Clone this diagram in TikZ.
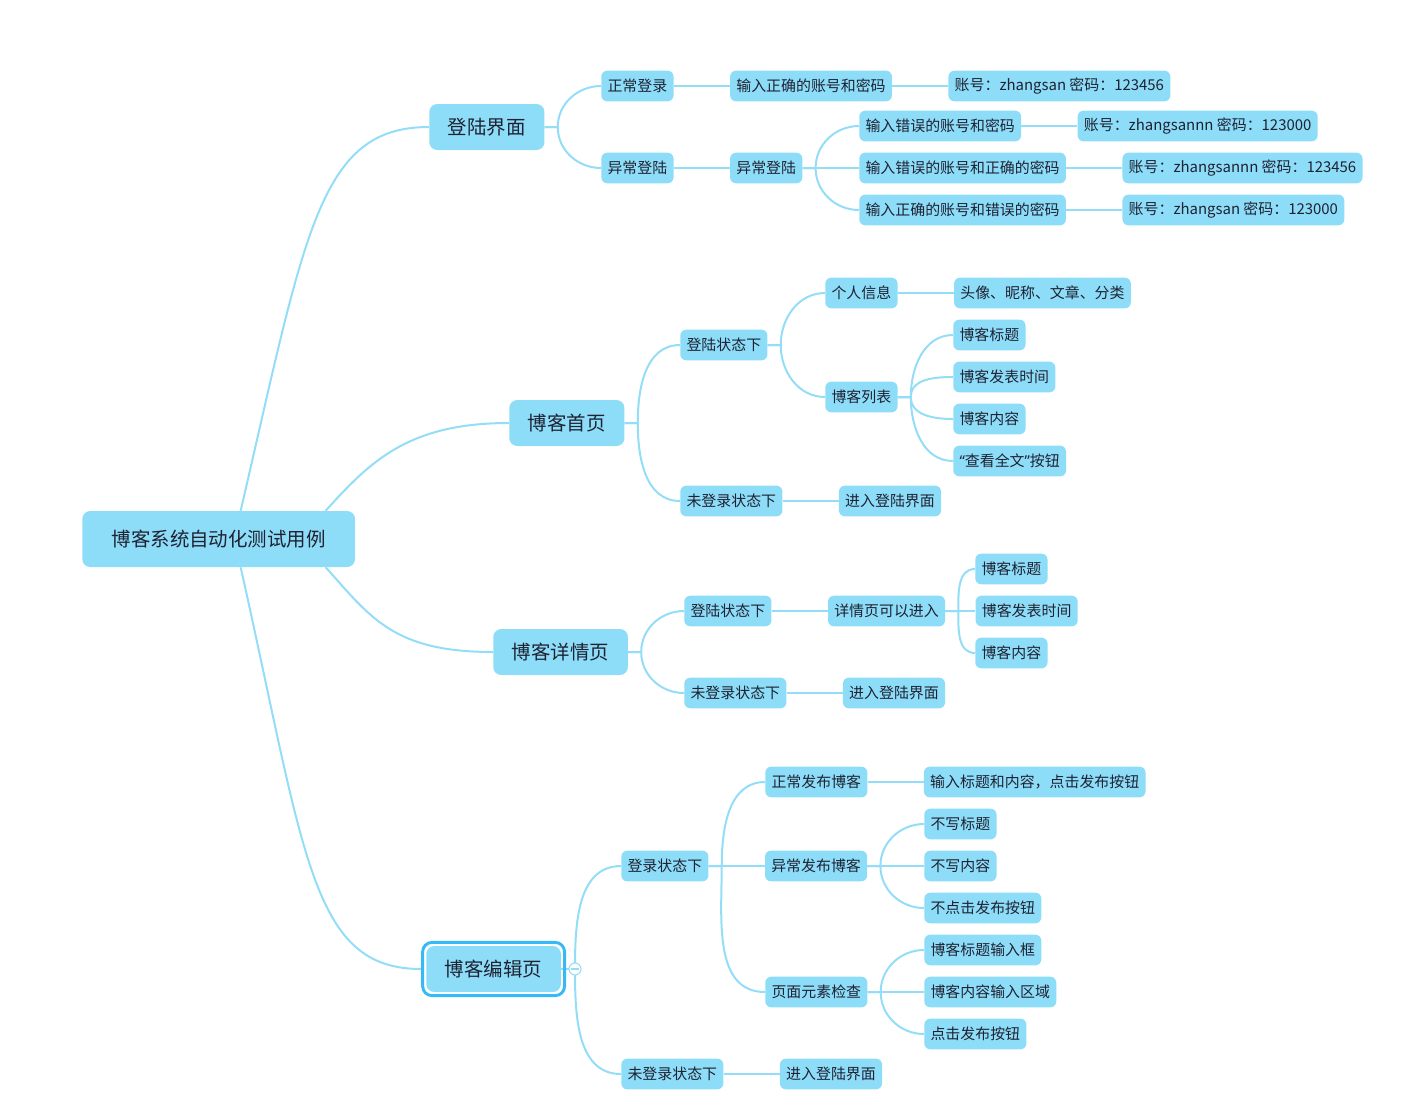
\documentclass[tikz,border=0pt]{standalone}
\usepackage{fontspec}
\setmainfont{Noto Sans CJK SC}
\newfontfamily\quotefont{Noto Sans}
\usetikzlibrary{positioning, calc, fit, backgrounds}

\definecolor{nodeblue}{HTML}{8EDDF8}
\definecolor{linkblue}{HTML}{93DDF7}
\definecolor{selblue}{HTML}{36B9F5}
\definecolor{inkgray}{HTML}{1E2233}

\begin{document}
\begin{tikzpicture}[
    x=0.75pt, y=-0.75pt,
    node distance=42pt,
    central/.style={fill=nodeblue, rounded corners=6pt, minimum height=42pt, inner xsep=22pt, text=inkgray, font=\fontsize{14.6}{17}\selectfont},
    topic/.style={fill=nodeblue, rounded corners=6pt, minimum height=34.5pt, inner xsep=14pt, text=inkgray, font=\fontsize{14.6}{17}\selectfont},
    sub/.style={fill=nodeblue, rounded corners=4.5pt, minimum height=23pt, inner xsep=4.7pt, text=inkgray, font=\fontsize{11.2}{13}\selectfont},
    link/.style={draw=linkblue, line width=1.5pt},
    selframe/.style={draw=selblue, line width=2.2pt, rounded corners=7pt, inner sep=2.5pt},
    foldbtn/.style={circle, draw=linkblue, fill=white, line width=0.8pt, minimum size=9pt, inner sep=0pt}
]

\useasboundingbox (0,0) rectangle (1407,1108);

\node[central, anchor=west] (root) at (82,539) {博客系统自动化测试用例};

% 登陆界面
\node[topic, anchor=west] (login) at (429,127) {登陆界面};
\node[sub, anchor=west] (loginok) at (601,86) {正常登录};
\node[sub, anchor=west] (loginbad) at (601,168) {异常登陆};
\node[sub, right=of loginok] (okinput) {输入正确的账号和密码};
\node[sub, right=of okinput] (okdata) {账号：zhangsan 密码：123456};
\node[sub, right=of loginbad] (badsub) {异常登陆};
\node[sub, anchor=west] (bad1) at (859,126) {输入错误的账号和密码};
\node[sub, anchor=west] (bad2) at (859,168) {输入错误的账号和正确的密码};
\node[sub, anchor=west] (bad3) at (859,210) {输入正确的账号和错误的密码};
\node[sub, right=of bad1] (bad1data) {账号：zhangsannn 密码：123000};
\node[sub, right=of bad2] (bad2data) {账号：zhangsannn 密码：123456};
\node[sub, right=of bad3] (bad3data) {账号：zhangsan 密码：123000};

% 博客首页
\node[topic, anchor=west] (home) at (509,423) {博客首页};
\node[sub, anchor=west] (homein) at (680,345) {登陆状态下};
\node[sub, anchor=west] (homeout) at (680,501) {未登录状态下};
\node[sub, anchor=west] (profile) at (825,293) {个人信息};
\node[sub, right=of profile] (profiledata) {头像、昵称、文章、分类};
\node[sub, anchor=west] (bloglist) at (825,397) {博客列表};
\node[sub, anchor=west] (listtitle) at (953,335) {博客标题};
\node[sub, anchor=west] (listtime) at (953,377) {博客发表时间};
\node[sub, anchor=west] (listbody) at (953,419) {博客内容};
\node[sub, anchor=west] (listmore) at (953,461) {{\quotefont “}查看全文{\quotefont ”}按钮};
\node[sub, right=of homeout] (homelogin) {进入登陆界面};

% 博客详情页
\node[topic, anchor=west] (detail) at (493,652) {博客详情页};
\node[sub, anchor=west] (detailin) at (684,611) {登陆状态下};
\node[sub, anchor=west] (detailout) at (684,693) {未登录状态下};
\node[sub, right=of detailin] (detailok) {详情页可以进入};
\node[sub, anchor=west] (dtitle) at (975,569) {博客标题};
\node[sub, right=22.5pt of detailok] (dtime) {博客发表时间};
\node[sub, anchor=west] (dbody) at (975,653) {博客内容};
\node[sub, right=of detailout] (dlogin) {进入登陆界面};

% 博客编辑页
\node[topic, anchor=west] (edit) at (426,969) {博客编辑页};
\node[selframe, fit=(edit)] (editframe) {};
\node[foldbtn] (editdot) at ($(editframe.east)+(9,0)$) {};
\draw[linkblue, line width=0.8pt] ([xshift=-3pt]editdot.center) -- ([xshift=3pt]editdot.center);
\node[sub, anchor=west] (editin) at (621,866) {登录状态下};
\node[sub, anchor=west] (editout) at (621,1074) {未登录状态下};
\node[sub, anchor=west] (postok) at (765,782) {正常发布博客};
\node[sub, right=of postok] (postokdata) {输入标题和内容，点击发布按钮};
\node[sub, right=of editin] (postbad) {异常发布博客};
\node[sub, anchor=west] (nottitle) at (924,824) {不写标题};
\node[sub, anchor=west] (notbody) at (924,866) {不写内容};
\node[sub, anchor=west] (notclick) at (924,908) {不点击发布按钮};
\node[sub, anchor=west] (pagecheck) at (765,992) {页面元素检查};
\node[sub, anchor=west] (titlebox) at (924,950) {博客标题输入框};
\node[sub, anchor=west] (bodybox) at (924,992) {博客内容输入区域};
\node[sub, anchor=west] (publish) at (924,1034) {点击发布按钮};
\node[sub, right=of editout] (editlogin) {进入登陆界面};

\begin{scope}[on background layer]
% root
\draw[link] ($(root.north)+(22,0)$) .. controls +(65,-280) and +(-110,0) .. (login.west);
\draw[link] ($(root.north)+(107,0)$) .. controls +(45,-50) and +(-100,0) .. (home.west);
\draw[link] ($(root.south)+(107,0)$) .. controls +(45,50) and +(-100,0) .. (detail.west);
\draw[link] ($(root.south)+(22,0)$) .. controls +(65,290) and +(-110,0) .. (editframe.west);

% login
\draw[link] (login.east) -- ++(13,0) to[out=90, in=180] (loginok.west);
\draw[link] (login.east) -- ++(13,0) to[out=-90, in=180] (loginbad.west);
\draw[link] (loginok) -- (okinput) -- (okdata);
\draw[link] (loginbad) -- (badsub) -- (bad2) -- (bad2data);
\draw[link] (badsub.east) -- ++(13,0) to[out=90, in=180] (bad1.west);
\draw[link] (badsub.east) -- ++(13,0) to[out=-90, in=180] (bad3.west);
\draw[link] (bad1) -- (bad1data);
\draw[link] (bad3) -- (bad3data);

% home
\draw[link] (home.east) -- ++(13,0) to[out=90, in=180] (homein.west);
\draw[link] (home.east) -- ++(13,0) to[out=-90, in=180] (homeout.west);
\draw[link] (homein.east) -- ++(13,0) to[out=90, in=180] (profile.west);
\draw[link] (homein.east) -- ++(13,0) to[out=-90, in=180] (bloglist.west);
\draw[link] (profile) -- (profiledata);
\draw[link] (bloglist.east) -- ++(13,0) to[out=90, in=180] (listtitle.west);
\draw[link] (bloglist.east) -- ++(13,0) to[out=90, in=180] (listtime.west);
\draw[link] (bloglist.east) -- ++(13,0) to[out=-90, in=180] (listbody.west);
\draw[link] (bloglist.east) -- ++(13,0) to[out=-90, in=180] (listmore.west);
\draw[link] (homeout) -- (homelogin);

% detail
\draw[link] (detail.east) -- ++(13,0) to[out=90, in=180] (detailin.west);
\draw[link] (detail.east) -- ++(13,0) to[out=-90, in=180] (detailout.west);
\draw[link] (detailin) -- (detailok) -- (dtime);
\draw[link] (detailok.east) -- ++(13,0) to[out=90, in=180] (dtitle.west);
\draw[link] (detailok.east) -- ++(13,0) to[out=-90, in=180] (dbody.west);
\draw[link] (detailout) -- (dlogin);

% edit
\draw[link] (edit.east) -- (editdot.center);
\draw[link] (editdot.center) to[out=90, in=180] (editin.west);
\draw[link] (editdot.center) to[out=-90, in=180] (editout.west);
\draw[link] (editin) -- (postbad) -- (notbody);
\draw[link] (editin.east) -- ++(13,0) to[out=90, in=180] (postok.west);
\draw[link] (editin.east) -- ++(13,0) to[out=-90, in=180] (pagecheck.west);
\draw[link] (postok) -- (postokdata);
\draw[link] (postbad.east) -- ++(13,0) to[out=90, in=180] (nottitle.west);
\draw[link] (postbad.east) -- ++(13,0) to[out=-90, in=180] (notclick.west);
\draw[link] (pagecheck) -- (bodybox);
\draw[link] (pagecheck.east) -- ++(13,0) to[out=90, in=180] (titlebox.west);
\draw[link] (pagecheck.east) -- ++(13,0) to[out=-90, in=180] (publish.west);
\draw[link] (editout) -- (editlogin);
\end{scope}

\end{tikzpicture}
\end{document}
